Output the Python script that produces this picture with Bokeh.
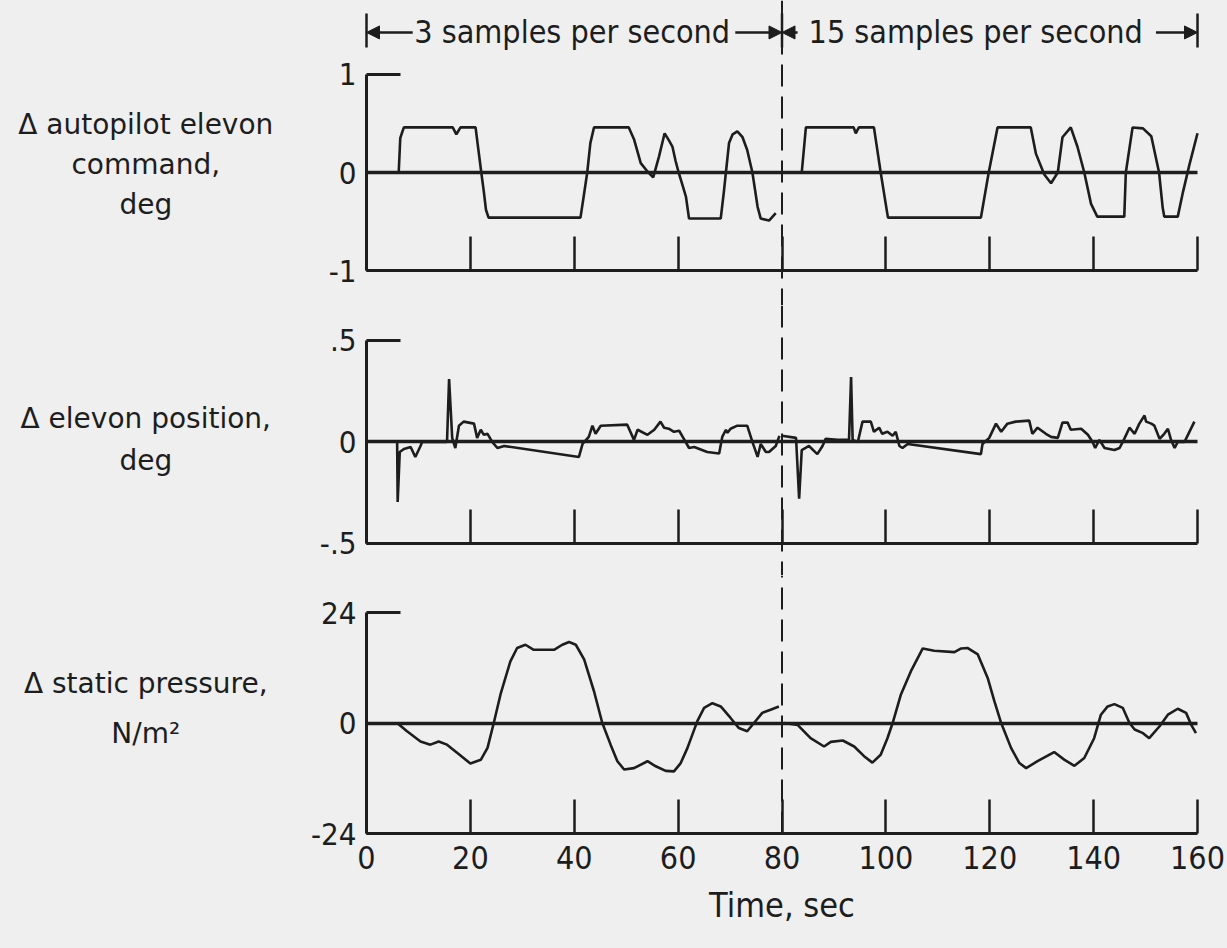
from bokeh.plotting import figure
from bokeh.models import LinearAxis, FixedTicker, Span, Arrow, NormalHead, Range1d
from bokeh.layouts import column
from bokeh.embed import file_html
from bokeh.resources import INLINE
from bokeh.core.properties import value

# ---------------- data ----------------
cmd_t1 = [0, 6.2, 6.5, 6.8, 7.2, 16.6, 17.3, 18.1, 21.0, 21.5, 22.1, 22.6, 23.0, 23.5, 41.2, 41.8, 42.5,
          43.1, 43.8, 50.5, 51.5, 52.8, 54.1, 55.2, 56.3, 57.4, 58.2, 58.9, 59.5, 60.1, 60.8, 61.5, 62.1,
          68.2, 68.8, 69.2, 69.8, 70.5, 71.4, 72.4, 73.3, 74.3, 75.3, 75.9, 77.5, 78.8]
cmd_v1 = [0, 0, 0.35, 0.40, 0.46, 0.46, 0.39, 0.46, 0.46, 0.25, 0.0, -0.2, -0.38, -0.46, -0.46, -0.25, 0.0,
          0.3, 0.46, 0.46, 0.34, 0.095, 0.01, -0.05, 0.16, 0.40, 0.33, 0.265, 0.12, 0.0, -0.12, -0.245, -0.47,
          -0.47, -0.2, 0.0, 0.30, 0.39, 0.42, 0.36, 0.23, 0.0, -0.35, -0.47, -0.49, -0.415]
cmd_t2 = [80, 83.8, 84.6, 93.8, 94.2, 94.8, 97.7, 99.0, 100.4, 118.3, 119.8, 121.5, 127.9, 128.9, 130.5,
          131.8, 133.1, 134.0, 135.6, 136.9, 138.2, 139.5, 140.7, 145.9, 146.2, 147.5, 149.5, 151.1, 152.6,
          153.3, 153.6, 156.2, 157.2, 158.4, 160.0]
cmd_v2 = [0, 0, 0.46, 0.46, 0.40, 0.46, 0.46, 0, -0.46, -0.46, 0, 0.46, 0.46, 0.19, -0.02,
          -0.11, 0, 0.36, 0.46, 0.26, 0, -0.32, -0.45, -0.45, 0, 0.46, 0.45, 0.37, 0,
          -0.36, -0.45, -0.45, -0.2, 0.07, 0.4]

pos_t1 = [5.9, 6.0, 6.4, 7.2, 8.5, 9.4, 10.4, 10.7, 15.5, 15.9, 16.5, 17.1, 17.8, 18.7, 20.7, 21.3, 22.0,
          22.6, 23.3, 24.2, 25.2, 26.5, 40.9, 41.6, 42.8, 43.5, 44.1, 45.1, 50.2, 51.5, 52.2, 54.1, 55.4,
          56.6, 57.3, 58.2, 59.2, 60.2, 61.1, 62.1, 63.1, 65.6, 67.9, 68.5, 69.2, 69.5, 70.1, 71.4, 73.3,
          74.3, 75.3, 75.9, 76.9, 77.5, 78.8, 79.5]
pos_v1 = [0, -0.296, -0.05, -0.035, -0.025, -0.074, -0.02, 0, 0, 0.31, 0.02, -0.03, 0.08, 0.10, 0.09, 0.02, 0.06,
          0.035, 0.04, 0, -0.03, -0.02, -0.074, -0.01, 0.025, 0.08, 0.04, 0.08, 0.085, 0.01, 0.06, 0.035, 0.06,
          0.10, 0.07, 0.065, 0.05, 0.055, 0.015, -0.03, -0.025, -0.05, -0.057, 0.025, 0.06, 0.045, 0.065, 0.08, 0.08,
          0, -0.074, -0.01, -0.05, -0.05, -0.02, 0.03]
pos_t2 = [80, 82.7, 83.3, 83.8, 85.2, 86.8, 87.8, 88.4, 90.7, 92.9, 93.3, 93.6, 94.6, 95.5, 97.1, 97.7, 98.7,
          99.3, 100.3, 101.3, 101.9, 102.6, 103.2, 104.2, 118.3, 118.6, 119.9, 121.2, 122.2, 123.4, 125.0,
          127.6, 128.2, 129.2, 130.8, 131.8, 133.1, 134.0, 135.0, 135.6, 137.6, 138.9, 139.8, 140.3, 141.1,
          142.1, 144.0, 145.0, 145.9, 146.9, 147.9, 148.8, 149.8, 150.1, 151.1, 151.7, 152.7, 153.6, 154.3,
          154.9, 155.6, 156.2, 157.5, 159.4]
pos_v2 = [0.03, 0.02, -0.28, -0.04, -0.02, -0.06, -0.02, 0.015, 0.01, 0.01, 0.32, 0.01, 0, 0.1, 0.1, 0.05, 0.07,
          0.04, 0.05, 0.03, 0.05, -0.02, -0.03, -0.01, -0.06, -0.01, 0.02, 0.09, 0.05, 0.09, 0.1,
          0.105, 0.04, 0.07, 0.04, 0.025, 0.02, 0.095, 0.095, 0.06, 0.065, 0.035, 0, -0.03, 0.01,
          -0.03, -0.04, -0.03, 0.015, 0.07, 0.04, 0.09, 0.13, 0.1, 0.09, 0.08, 0.015, 0.04, 0.065,
          0.01, -0.03, 0, 0, 0.1]

prs_t1 = [5.9, 7.8, 10.4, 12.3, 13.9, 15.5, 17.5, 20.0, 22.0, 23.3, 24.5, 25.8, 27.7, 29.0, 30.6, 32.2, 36.1,
          37.7, 39.0, 40.3, 41.9, 43.8, 45.4, 47.0, 48.3, 49.6, 51.5, 54.1, 55.7, 57.6, 59.2, 60.5, 61.8, 63.7,
          65.0, 66.6, 68.2, 70.1, 71.7, 73.3, 74.6, 76.2, 77.8, 79.4]
prs_v1 = [0, -1.8, -4.0, -4.7, -4.0, -4.7, -6.5, -8.8, -8.0, -5.4, 0, 6.2, 13.4, 16.3, 17.0, 15.9, 15.9,
          17.0, 17.6, 17.0, 13.8, 6.9, 0, -4.7, -8.3, -10.1, -9.8, -8.3, -9.4, -10.4, -10.5, -8.7, -5.4, 0.4,
          3.3, 4.3, 3.6, 1.1, -1.1, -1.8, 0, 2.2, 2.9, 3.6]
prs_t2 = [80.4, 83.0, 85.5, 88.1, 89.4, 91.7, 93.9, 95.8, 97.4, 99.0, 100.3, 101.3, 102.9, 104.8, 107.1, 109.3,
          113.2, 114.5, 115.7, 117.7, 119.6, 120.9, 122.2, 124.1, 125.7, 127.0, 129.2, 132.4, 134.4, 136.3,
          138.2, 140.1, 141.4, 142.7, 144.0, 145.6, 146.9, 147.9, 149.5, 150.7, 152.7, 154.3, 156.2, 157.8,
          158.8, 159.7]
prs_v2 = [0, -0.4, -3.3, -5.1, -4.1, -3.8, -5.1, -7.2, -8.6, -6.9, -3.3, 0, 6.2, 11.2, 16.2, 15.7,
          15.4, 16.2, 16.3, 14.9, 9.8, 4.7, 0, -5.4, -8.7, -9.8, -8.3, -6.3, -8.0, -9.3,
          -7.6, -3.3, 1.8, 3.6, 4.1, 3.3, 0, -1.4, -2.2, -3.3, -0.7, 1.8, 3.1, 2.2,
          -0.4, -2.2]

x_ticks = [0, 20, 40, 60, 80, 100, 120, 140, 160]
x_tick_labels = ["0", "20", "40", "60", "80", "100", "120", "140", "160"]
switch_time = 80
rate_labels = ["3 samples per second", "15 samples per second"]
rate_centers = [39.6, 117.3]

cmd_ticks, cmd_labels = [-1, 0, 1], ["-1", "0", "1"]
pos_ticks, pos_labels = [-0.5, 0, 0.5], ["-.5", "0", ".5"]
prs_ticks, prs_labels = [-24, 0, 24], ["-24", "0", "24"]

cmd_title = ["\u0394 autopilot elevon", "command,", "deg"]
pos_title = ["\u0394 elevon position,", "deg"]
prs_title = ["\u0394 static pressure,", "N/m\u00b2"]
x_title = "Time, sec"

# ---------------- style ----------------
INK = "#1d1d1d"
BG = "#efefef"
NARROW = "DejaVu Sans Condensed, Liberation Sans Narrow, Roboto"
WIDE = "DejaVu Sans"
W = 1225
X0, X1 = -70.47, 165.39   # frame fills the page width; time 0 sits 366 px in, 160 at 1197 px
TICK_IN = 34
LABEL_X = -42.5
DASH = "22 10"


def make_fig(height, yr):
    p = figure(width=W, height=height, x_range=Range1d(X0, X1), y_range=Range1d(*yr),
               output_backend="svg", toolbar_location=None,
               x_axis_location=None, y_axis_location=None,
               min_border_left=0, min_border_right=0, min_border_top=0, min_border_bottom=0,
               background_fill_color=BG, border_fill_color=BG, outline_line_color=None)
    p.grid.visible = False
    return p


def add_y_axis(p, ticks, labels):
    ax = LinearAxis(fixed_location=0, bounds=(ticks[0], ticks[-1]),
                    ticker=FixedTicker(ticks=ticks, minor_ticks=[]),
                    major_label_overrides={t: l for t, l in zip(ticks, labels)},
                    axis_line_color=INK, axis_line_width=3,
                    major_tick_line_color=INK, major_tick_line_width=3,
                    major_tick_in=TICK_IN, major_tick_out=0,
                    major_label_standoff=10,
                    major_label_text_font=NARROW, major_label_text_font_size="31px",
                    major_label_text_color=INK)
    p.add_layout(ax, "left")


def add_x_axis(p, at, show_labels):
    ax = LinearAxis(fixed_location=at, bounds=(x_ticks[0], x_ticks[-1]),
                    ticker=FixedTicker(ticks=x_ticks, minor_ticks=[]),
                    major_label_overrides={t: l for t, l in zip(x_ticks, x_tick_labels)},
                    axis_line_color=INK, axis_line_width=3,
                    major_tick_line_color=INK, major_tick_line_width=2.5,
                    major_tick_in=TICK_IN, major_tick_out=0,
                    major_label_standoff=12,
                    major_label_text_font=NARROW, major_label_text_font_size="32px",
                    major_label_text_color=INK if show_labels else None)
    p.add_layout(ax, "below")
    # zero reference line drawn as an unlabelled axis at value 0
    zero = LinearAxis(fixed_location=0, bounds=(x_ticks[0], x_ticks[-1]),
                      ticker=FixedTicker(ticks=[], minor_ticks=[]),
                      axis_line_color=INK, axis_line_width=3.5,
                      major_label_text_color=None)
    p.add_layout(zero, "below")


def decorate(p, t1, v1, t2, v2, title, title_y):
    p.line(t1, v1, line_color=INK, line_width=2.6)
    p.line(t2, v2, line_color=INK, line_width=2.6)
    p.text(x=[LABEL_X] * len(title), y=title_y, text=title, text_font=value(WIDE), text_font_size="28px",
           text_align="center", text_baseline="middle", text_color=INK)


# ---- panel 1: autopilot elevon command ----
p1 = make_fig(305, (-1.357, 1.755))
p1.add_layout(Span(location=switch_time, dimension="height", line_color=INK, line_width=2, line_dash=DASH))
add_y_axis(p1, cmd_ticks, cmd_labels)
add_x_axis(p1, cmd_ticks[0], False)
decorate(p1, cmd_t1, cmd_v1, cmd_t2, cmd_v2, cmd_title, [0.49, 0.082, -0.327])

# header: sampling-rate brackets
hy, hb0, hb1 = 1.429, 1.276, 1.622
for xb in [0, switch_time, 160]:
    p1.add_layout(Arrow(x_start=xb, y_start=hb0, x_end=xb, y_end=hb1, start=None, end=None,
                        line_color=INK, line_width=2.5))
for xs, xe in [(8.9, 0), (71.0, switch_time), (83.0, switch_time), (152.0, 160)]:
    p1.add_layout(Arrow(x_start=xs, y_start=hy, x_end=xe, y_end=hy,
                        end=NormalHead(size=13, fill_color=INK, line_color=INK, line_width=1),
                        line_color=INK, line_width=2.5))
p1.text(x=rate_centers, y=[hy, hy], text=rate_labels, text_font=value(NARROW), text_font_size="32px",
        text_align="center", text_baseline="middle", text_color=INK)

# ---- panel 2: elevon position ----
p2 = make_fig(270, (-0.658, 0.672))
p2.add_layout(Span(location=switch_time, dimension="height", line_color=INK, line_width=2, line_dash=DASH))
add_y_axis(p2, pos_ticks, pos_labels)
add_x_axis(p2, pos_ticks[0], False)
decorate(p2, pos_t1, pos_v1, pos_t2, pos_v2, pos_title, [0.116, -0.091])

# ---- panel 3: static pressure (frame runs to the page bottom; axis fixed at -24) ----
y3_top = 32.04
p3 = make_fig(371, (-48.54, y3_top))
p3.segment(x0=[switch_time], y0=[prs_ticks[0]], x1=[switch_time], y1=[y3_top],
           line_color=INK, line_width=2, line_dash=DASH)
add_y_axis(p3, prs_ticks, prs_labels)
add_x_axis(p3, prs_ticks[0], True)
decorate(p3, prs_t1, prs_v1, prs_t2, prs_v2, prs_title, [8.58, -2.28])
p3.text(x=[switch_time], y=[-39.6], text=[x_title], text_font=value(NARROW), text_font_size="34px",
        text_align="center", text_baseline="middle", text_color=INK)

layout = column(p1, p2, p3, spacing=0)
html = file_html(layout, INLINE, title="elevon")
html = html.replace("</head>", "<style>html, body {background: %s;}</style></head>" % BG, 1)
open("out.html", "w").write(html)
